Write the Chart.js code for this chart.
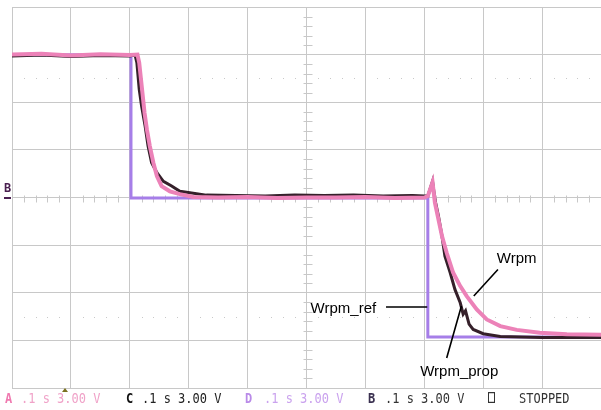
<!DOCTYPE html>
<html>
<head>
<meta charset="utf-8">
<script src="https://cdn.jsdelivr.net/npm/chart.js@4.4.1/dist/chart.umd.min.js"></script>
<style>
  body { margin: 0; background: #fff; }
  canvas { display: block; }
</style>
</head>
<body>
<canvas id="scope" width="601" height="410"></canvas>
<script>
// time in divisions (.1 s/div), level in divisions (3.00 V/div)
const refT = [0, 2.02, 2.02, 7.06, 7.06, 10];
const refV = [3.0, 3.0, -0.01, -0.01, -2.93, -2.93];

const wrpmT = [0, 0.5, 1.0, 1.5, 2.0, 2.13, 2.16, 2.19, 2.22, 2.25, 2.29, 2.34, 2.40, 2.46, 2.54, 2.68, 2.85, 3.08,
  3.5, 4.0, 4.5, 5.0, 5.5, 6.0, 6.5, 7.0, 7.06, 7.14, 7.18, 7.24, 7.30, 7.38, 7.49, 7.61, 7.72, 7.89, 8.06, 8.29,
  8.57, 8.96, 9.42, 10];
const wrpmV = [3.0, 3.02, 2.98, 3.01, 2.99, 3.0, 2.83, 2.48, 2.13, 1.78, 1.43, 1.08, 0.73, 0.45, 0.24, 0.13, 0.07, 0.01,
  0.0, 0.01, -0.01, 0.0, 0.0, 0.01, -0.01, 0.0, 0.03, 0.32, -0.11, -0.46, -0.81, -1.16, -1.58, -1.86, -2.07, -2.35, -2.56, -2.70,
  -2.78, -2.84, -2.87, -2.88];

const propT = [0, 0.5, 1.0, 1.5, 2.0, 2.09, 2.12, 2.16, 2.20, 2.26, 2.31, 2.37, 2.46, 2.57, 2.71, 2.85, 3.02, 3.3,
  3.8, 4.3, 4.8, 5.3, 5.8, 6.3, 6.8, 7.0, 7.06, 7.14, 7.18, 7.24, 7.30, 7.35, 7.44, 7.52, 7.61, 7.66, 7.70, 7.76,
  7.83, 8.0, 8.29, 9.0, 10];
const propV = [2.97, 2.99, 2.96, 2.98, 2.97, 2.99, 2.83, 2.27, 1.92, 1.50, 1.08, 0.73, 0.52, 0.34, 0.24, 0.13, 0.10, 0.05,
  0.04, 0.03, 0.05, 0.04, 0.05, 0.03, 0.04, 0.03, 0.03, 0.34, -0.04, -0.39, -0.81, -1.23, -1.58, -1.93, -2.21, -2.45, -2.38, -2.66,
  -2.77, -2.86, -2.92, -2.94, -2.94];

// status line under the screen
const channelLabels = ["A", "C", "D", "B"];
const channelText = [".1 s 3.00 V", ".1 s 3.00 V", ".1 s 3.00 V", ".1 s 3.00 V"];

const GRID = "#c8c8c8";

function pts(t, v) {
  return t.map((x, i) => ({ x: x, y: v[i] }));
}

// grid ticks, dotted rows, labels and the scope status line
const scopeDecor = {
  id: "scopeDecor",
  beforeDatasetsDraw(chart) {
    const ctx = chart.ctx;
    const xs = chart.scales.x, ys = chart.scales.y;
    const cx = Math.round(xs.getPixelForValue(5)) + 0.5;
    const cy = Math.round(ys.getPixelForValue(0)) + 0.5;
    ctx.save();
    ctx.strokeStyle = GRID;
    ctx.lineWidth = 1;
    ctx.beginPath();
    for (let i = -20; i <= 20; i++) {
      if (i % 5 === 0) continue;
      const y = Math.round(ys.getPixelForValue(i * 0.2)) + 0.5;
      ctx.moveTo(cx - 4, y); ctx.lineTo(cx + 5, y);
    }
    for (let i = 0; i <= 50; i++) {
      if (i % 5 === 0) continue;
      const x = Math.round(xs.getPixelForValue(i * 0.2)) + 0.5;
      ctx.moveTo(x, cy - 3); ctx.lineTo(x, cy + 4);
    }
    ctx.stroke();
    ctx.fillStyle = GRID;
    [2.5, -2.5].forEach((lv) => {
      const y = Math.round(ys.getPixelForValue(lv));
      for (let i = 0; i <= 50; i++) {
        if (i % 5 === 0) continue;
        const x = Math.round(xs.getPixelForValue(i * 0.2));
        ctx.fillRect(x, y, 1, 1);
      }
    });
    ctx.restore();
  },
  afterDraw(chart) {
    const ctx = chart.ctx;
    const xs = chart.scales.x, ys = chart.scales.y;
    const px = (v) => xs.getPixelForValue(v);
    const py = (v) => ys.getPixelForValue(v);
    ctx.save();

    // trace labels
    ctx.fillStyle = "#000";
    ctx.strokeStyle = "#000";
    ctx.lineWidth = 1.6;
    ctx.font = "15px 'Liberation Sans', Arial, sans-serif";
    ctx.textBaseline = "middle";
    ctx.fillText("Wrpm", px(8.23), py(-1.28));
    ctx.fillText("Wrpm_ref", px(5.07), py(-2.33));
    ctx.fillText("Wrpm_prop", px(6.93), py(-3.66));
    ctx.beginPath();
    ctx.moveTo(px(8.25), py(-1.51)); ctx.lineTo(px(7.84), py(-2.07));
    ctx.moveTo(px(6.35), py(-2.30)); ctx.lineTo(px(7.05), py(-2.30));
    ctx.moveTo(px(7.38), py(-3.37)); ctx.lineTo(px(7.63), py(-2.28));
    ctx.stroke();

    // channel B ground marker
    ctx.fillStyle = "#4a2050";
    ctx.font = "bold 12px 'DejaVu Sans Mono', monospace";
    ctx.textBaseline = "alphabetic";
    ctx.fillText("B", 4, 192);
    ctx.fillRect(4, 197, 7, 2);

    // trigger marker
    ctx.fillStyle = "#7a7020";
    ctx.beginPath();
    ctx.moveTo(px(0.9) - 3, 392); ctx.lineTo(px(0.9) + 3, 392); ctx.lineTo(px(0.9), 388);
    ctx.closePath(); ctx.fill();

    // status line
    const labelX = [5, 126, 245, 368];
    const textX = [21, 142, 264, 385];
    const labelCol = ["#f07ab0", "#111", "#b98ae8", "#3a3050"];
    const textCol = ["#f0a2c8", "#222", "#caa2ee", "#333"];
    ctx.translate(0, 403);
    ctx.scale(1, 1.22);
    for (let i = 0; i < channelLabels.length; i++) {
      ctx.font = "bold 12px 'DejaVu Sans Mono', monospace";
      ctx.fillStyle = labelCol[i];
      ctx.fillText(channelLabels[i], labelX[i], 0);
      ctx.font = "12px 'DejaVu Sans Mono', monospace";
      ctx.fillStyle = textCol[i];
      ctx.fillText(channelText[i], textX[i], 0);
    }
    ctx.strokeStyle = "#333";
    ctx.lineWidth = 1;
    ctx.strokeRect(488.5, -8.5, 6, 8);
    ctx.fillStyle = "#333";
    ctx.fillText("STOPPED", 519, 0);
    ctx.restore();
  }
};

new Chart(document.getElementById("scope"), {
  type: "line",
  data: {
    datasets: [
      { label: "Wrpm", data: pts(wrpmT, wrpmV), borderColor: "#ec82b8", borderWidth: 4 },
      { label: "Wrpm_prop", data: pts(propT, propV), borderColor: "#35202a", borderWidth: 3 },
      { label: "Wrpm_ref", data: pts(refT, refV), borderColor: "#a67ee8", borderWidth: 3 },
    ],
  },
  options: {
    responsive: false,
    animation: false,
    devicePixelRatio: 1,
    layout: { padding: { left: 12, top: 7, right: 0, bottom: 22 } },
    elements: { point: { radius: 0 }, line: { tension: 0 } },
    plugins: { legend: { display: false }, tooltip: { enabled: false } },
    scales: {
      x: {
        type: "linear", min: 0, max: 10,
        ticks: { display: false, stepSize: 1 },
        grid: { color: GRID, drawTicks: false },
        border: { color: GRID },
      },
      y: {
        min: -4, max: 4,
        ticks: { display: false, stepSize: 1 },
        grid: { color: GRID, drawTicks: false },
        border: { color: GRID },
      },
    },
  },
  plugins: [scopeDecor],
});
</script>
</body>
</html>
